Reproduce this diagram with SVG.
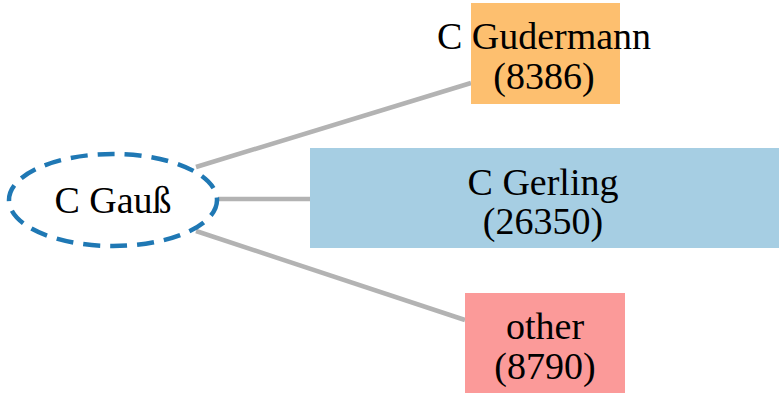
<svg xmlns="http://www.w3.org/2000/svg" width="779" height="393" viewBox="0 0 779 393">
<style>
text{font-family:"Liberation Serif","Times New Roman","DejaVu Serif",serif;font-size:38px;fill:#000;text-anchor:middle}
.e{stroke:#b3b3b3;stroke-width:4.5;fill:none}
</style>
<rect width="779" height="393" fill="#fff"/>
<g id="connectors">
<line class="e" x1="196" y1="167" x2="471" y2="83"/>
<line class="e" x1="218" y1="199" x2="310" y2="199"/>
<line class="e" x1="196" y1="231" x2="465" y2="320"/>
</g>
<g id="gauss">
<ellipse cx="113" cy="200" rx="104" ry="46" fill="none" stroke="#1f78b4" stroke-width="4.5" stroke-dasharray="17,10"/>
<text x="113" y="213">C Gauß</text>
</g>
<g id="gudermann">
<rect x="471" y="3" width="149" height="101" fill="#fdbf6f"/>
<text x="544" y="49">C Gudermann</text>
<text x="544" y="89">(8386)</text>
</g>
<g id="gerling">
<rect x="310" y="148" width="469" height="100" fill="#a6cee3"/>
<text x="543" y="195">C Gerling</text>
<text x="543" y="234">(26350)</text>
</g>
<g id="other">
<rect x="465" y="293" width="160" height="100" fill="#fb9a99"/>
<text x="545" y="339">other</text>
<text x="545" y="379">(8790)</text>
</g>
</svg>
